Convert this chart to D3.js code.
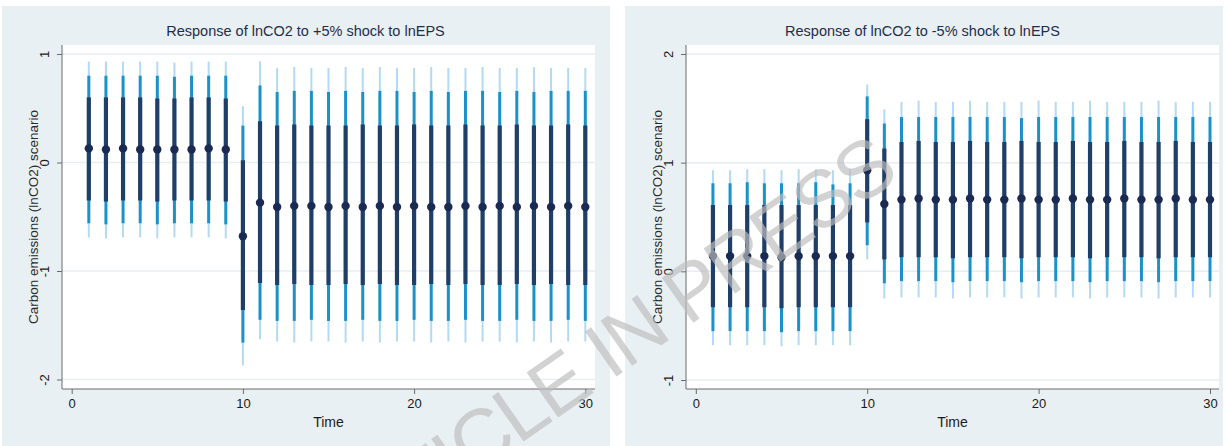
<!DOCTYPE html>
<html>
<head>
<meta charset="utf-8">
<script src="https://cdn.jsdelivr.net/npm/d3@7"></script>
<style>
  html, body { margin: 0; padding: 0; background: #ffffff; }
  svg { display: block; font-family: "Liberation Sans", Arial, sans-serif; }
</style>
</head>
<body>
<svg id="chart" width="1225" height="446"></svg>
<script>
// Horizon (periods after the shock)
const periods = d3.range(1, 31);

// Tick labels
const xTicks = [0, 10, 20, 30];
const posYTicks = [-2, -1, 0, 1];
const negYTicks = [-1, 0, 1, 2];

// +5% shock to lnEPS: point response and 68/90/95% bands
const posPoint = [0.13, 0.12, 0.13, 0.12, 0.12, 0.12, 0.12, 0.13, 0.12, -0.68, -0.37,
  -0.41, -0.40, -0.40, -0.41, -0.40, -0.41, -0.40, -0.41, -0.40, -0.41, -0.41, -0.40, -0.41, -0.40, -0.41, -0.40, -0.41, -0.40, -0.41];
const posHi68 = [0.60, 0.60, 0.60, 0.60, 0.59, 0.59, 0.60, 0.60, 0.59, 0.02, 0.38,
  0.34, 0.35, 0.34, 0.34, 0.34, 0.35, 0.34, 0.34, 0.35, 0.34, 0.34, 0.35, 0.34, 0.34, 0.35, 0.34, 0.34, 0.35, 0.34];
const posLo68 = [-0.35, -0.36, -0.35, -0.35, -0.36, -0.35, -0.35, -0.35, -0.36, -1.36, -1.11,
  -1.13, -1.12, -1.13, -1.13, -1.12, -1.13, -1.12, -1.13, -1.13, -1.12, -1.13, -1.12, -1.13, -1.13, -1.12, -1.13, -1.12, -1.13, -1.13];
const posHi90 = [0.80, 0.80, 0.80, 0.80, 0.80, 0.79, 0.80, 0.80, 0.80, 0.34, 0.71,
  0.65, 0.66, 0.66, 0.65, 0.66, 0.65, 0.66, 0.66, 0.65, 0.66, 0.65, 0.66, 0.66, 0.65, 0.66, 0.65, 0.66, 0.66, 0.66];
const posLo90 = [-0.56, -0.57, -0.56, -0.56, -0.57, -0.56, -0.56, -0.56, -0.57, -1.66, -1.45,
  -1.46, -1.46, -1.45, -1.46, -1.46, -1.45, -1.46, -1.46, -1.45, -1.46, -1.46, -1.45, -1.46, -1.46, -1.45, -1.46, -1.46, -1.45, -1.46];
const posHi95 = [0.93, 0.93, 0.93, 0.93, 0.93, 0.92, 0.93, 0.93, 0.93, 0.52, 0.93,
  0.87, 0.88, 0.87, 0.87, 0.88, 0.87, 0.88, 0.87, 0.87, 0.88, 0.87, 0.87, 0.88, 0.87, 0.87, 0.88, 0.87, 0.87, 0.87];
const posLo95 = [-0.69, -0.70, -0.69, -0.69, -0.70, -0.69, -0.69, -0.69, -0.70, -1.87, -1.63,
  -1.65, -1.66, -1.65, -1.65, -1.66, -1.65, -1.66, -1.65, -1.65, -1.66, -1.65, -1.66, -1.65, -1.65, -1.66, -1.65, -1.66, -1.65, -1.65];

// -5% shock to lnEPS: point response and 68/90/95% bands
const negPoint = [0.14, 0.14, 0.14, 0.14, 0.13, 0.14, 0.14, 0.14, 0.14, 0.93, 0.62,
  0.66, 0.67, 0.66, 0.66, 0.67, 0.66, 0.66, 0.67, 0.66, 0.66, 0.67, 0.66, 0.66, 0.67, 0.66, 0.66, 0.67, 0.66, 0.66];
const negHi68 = [0.61, 0.61, 0.61, 0.61, 0.61, 0.61, 0.61, 0.61, 0.61, 1.40, 1.13,
  1.19, 1.20, 1.19, 1.19, 1.20, 1.19, 1.19, 1.20, 1.19, 1.19, 1.20, 1.19, 1.19, 1.20, 1.19, 1.19, 1.20, 1.19, 1.19];
const negLo68 = [-0.33, -0.33, -0.33, -0.33, -0.34, -0.33, -0.33, -0.33, -0.33, 0.45, 0.11,
  0.13, 0.13, 0.13, 0.12, 0.13, 0.13, 0.13, 0.12, 0.13, 0.13, 0.13, 0.12, 0.13, 0.13, 0.13, 0.12, 0.13, 0.13, 0.13];
const negHi90 = [0.81, 0.81, 0.82, 0.81, 0.81, 0.81, 0.82, 0.80, 0.81, 1.61, 1.36,
  1.42, 1.42, 1.42, 1.42, 1.42, 1.42, 1.42, 1.41, 1.42, 1.42, 1.42, 1.42, 1.42, 1.42, 1.42, 1.42, 1.42, 1.42, 1.42];
const negLo90 = [-0.55, -0.55, -0.55, -0.55, -0.56, -0.55, -0.55, -0.55, -0.55, 0.24, -0.11,
  -0.09, -0.09, -0.09, -0.10, -0.09, -0.09, -0.09, -0.10, -0.09, -0.09, -0.09, -0.10, -0.09, -0.09, -0.09, -0.10, -0.09, -0.09, -0.09];
const negHi95 = [0.93, 0.93, 0.94, 0.94, 0.93, 0.94, 0.94, 0.93, 0.94, 1.72, 1.49,
  1.56, 1.57, 1.56, 1.56, 1.57, 1.56, 1.56, 1.56, 1.57, 1.56, 1.56, 1.57, 1.56, 1.56, 1.56, 1.57, 1.56, 1.56, 1.56];
const negLo95 = [-0.68, -0.68, -0.68, -0.68, -0.69, -0.68, -0.68, -0.68, -0.68, 0.11, -0.25,
  -0.24, -0.24, -0.24, -0.25, -0.24, -0.24, -0.24, -0.25, -0.24, -0.24, -0.24, -0.25, -0.24, -0.24, -0.24, -0.25, -0.24, -0.24, -0.24];

const svg = d3.select("#chart");

const C = {
  panel: "#e9f0f3",
  grid: "#e6eef2",
  axis: "#6a6a6a",
  text: "#1a1a1a",
  title: "#1e2d4d",
  dot: "#1b2a52",
  band68: "#1f3f68",
  band90: "#1a92c9",
  band95: "#b3daf2"
};

function rows(point, lo68, hi68, lo90, hi90, lo95, hi95) {
  return periods.map((t, i) => ({
    t, point: point[i], lo68: lo68[i], hi68: hi68[i],
    lo90: lo90[i], hi90: hi90[i], lo95: lo95[i], hi95: hi95[i]
  }));
}

function drawPanel(cfg) {
  const g = svg.append("g");

  // panel background and plot region
  g.append("rect").attr("x", cfg.bg[0]).attr("y", cfg.bg[1])
    .attr("width", cfg.bg[2]).attr("height", cfg.bg[3]).attr("fill", C.panel);
  g.append("rect").attr("x", cfg.plot[0]).attr("y", cfg.plot[1])
    .attr("width", cfg.plot[2] - cfg.plot[0]).attr("height", cfg.plot[3] - cfg.plot[1])
    .attr("fill", "#ffffff");

  const x = d3.scaleLinear().domain([0, 30]).range(cfg.xRange);
  const y = d3.scaleLinear().domain(cfg.yDomain).range(cfg.yRange);

  // horizontal grid lines
  g.append("g").selectAll("line").data(cfg.yTicks).join("line")
    .attr("x1", cfg.plot[0]).attr("x2", cfg.plot[2])
    .attr("y1", d => y(d)).attr("y2", d => y(d))
    .attr("stroke", C.grid).attr("stroke-width", 1.5);

  // y axis
  const yAxis = g.append("g")
    .attr("transform", `translate(${cfg.plot[0]},0)`)
    .call(d3.axisLeft(y).tickValues(cfg.yTicks).tickSize(5).tickSizeOuter(0).tickFormat(d3.format("d")));
  yAxis.select(".domain").attr("stroke", C.axis).attr("d", `M0,${cfg.plot[1]}V${cfg.plot[3]}`);
  yAxis.selectAll(".tick line").attr("stroke", C.axis);
  yAxis.selectAll(".tick text")
    .attr("x", null).attr("dy", null)
    .attr("text-anchor", "middle")
    .attr("transform", "translate(-13,0) rotate(-90)")
    .attr("font-size", 13).attr("fill", C.text)
    .text(d => d < 0 ? "-" + Math.abs(d) : d);

  // x axis
  const xAxis = g.append("g")
    .attr("transform", `translate(0,${cfg.plot[3]})`)
    .call(d3.axisBottom(x).tickValues(xTicks).tickSize(5).tickSizeOuter(0));
  xAxis.select(".domain").attr("stroke", C.axis).attr("d", `M${cfg.plot[0]},0H${cfg.plot[2]}`);
  xAxis.selectAll(".tick line").attr("stroke", C.axis);
  xAxis.selectAll(".tick text").attr("y", 10).attr("dy", "0.71em")
    .attr("font-size", 13).attr("fill", C.text);

  // error bars: 95% (light), 90% (mid), 68% (dark), then the point
  const data = cfg.data;
  const bars = [
    ["lo95", "hi95", C.band95, 2],
    ["lo90", "hi90", C.band90, 3],
    ["lo68", "hi68", C.band68, 4.2]
  ];
  bars.forEach(([lo, hi, col, w]) => {
    g.append("g").selectAll("line").data(data).join("line")
      .attr("x1", d => x(d.t)).attr("x2", d => x(d.t))
      .attr("y1", d => y(d[lo])).attr("y2", d => y(d[hi]))
      .attr("stroke", col).attr("stroke-width", w);
  });
  g.append("g").selectAll("circle").data(data).join("circle")
    .attr("cx", d => x(d.t)).attr("cy", d => y(d.point))
    .attr("r", 4.2).attr("fill", C.dot);

  // titles
  g.append("text").attr("x", (cfg.plot[0] + cfg.plot[2]) / 2 + cfg.titleShift).attr("y", 36)
    .attr("text-anchor", "middle").attr("font-size", 14.5).attr("fill", C.title)
    .text(cfg.title);
  g.append("text").attr("x", (cfg.plot[0] + cfg.plot[2]) / 2).attr("y", 427)
    .attr("text-anchor", "middle").attr("font-size", 14).attr("fill", C.text)
    .text("Time");
  g.append("text")
    .attr("transform", `translate(${cfg.plot[0] - 24},${(cfg.plot[1] + cfg.plot[3]) / 2}) rotate(-90)`)
    .attr("text-anchor", "middle").attr("font-size", 13.5).attr("fill", "#2a2a2a")
    .text("Carbon emissions (lnCO2) scenario");
}

drawPanel({
  bg: [2, 6, 608, 440],
  plot: [62, 45, 595, 389],
  xRange: [71.7, 585.3],
  yDomain: [-2, 1],
  yRange: [379.5, 54],
  yTicks: posYTicks,
  titleShift: -23,
  title: "Response of lnCO2 to +5% shock to lnEPS",
  data: rows(posPoint, posLo68, posHi68, posLo90, posHi90, posLo95, posHi95)
});

drawPanel({
  bg: [625, 6, 598, 440],
  plot: [686, 45, 1219, 389],
  xRange: [695.8, 1210],
  yDomain: [-1, 2],
  yRange: [380, 54],
  yTicks: negYTicks,
  titleShift: -30,
  title: "Response of lnCO2 to -5% shock to lnEPS",
  data: rows(negPoint, negLo68, negHi68, negLo90, negHi90, negLo95, negHi95)
});

// diagonal watermark
svg.append("text")
  .attr("transform", "translate(900,178) rotate(-35)")
  .attr("text-anchor", "end")
  .attr("font-size", 80)
  .attr("letter-spacing", -2.5)
  .attr("fill", "#bcbcbc")
  .attr("fill-opacity", 0.68)
  .text("ARTICLE IN PRESS");
</script>
</body>
</html>
